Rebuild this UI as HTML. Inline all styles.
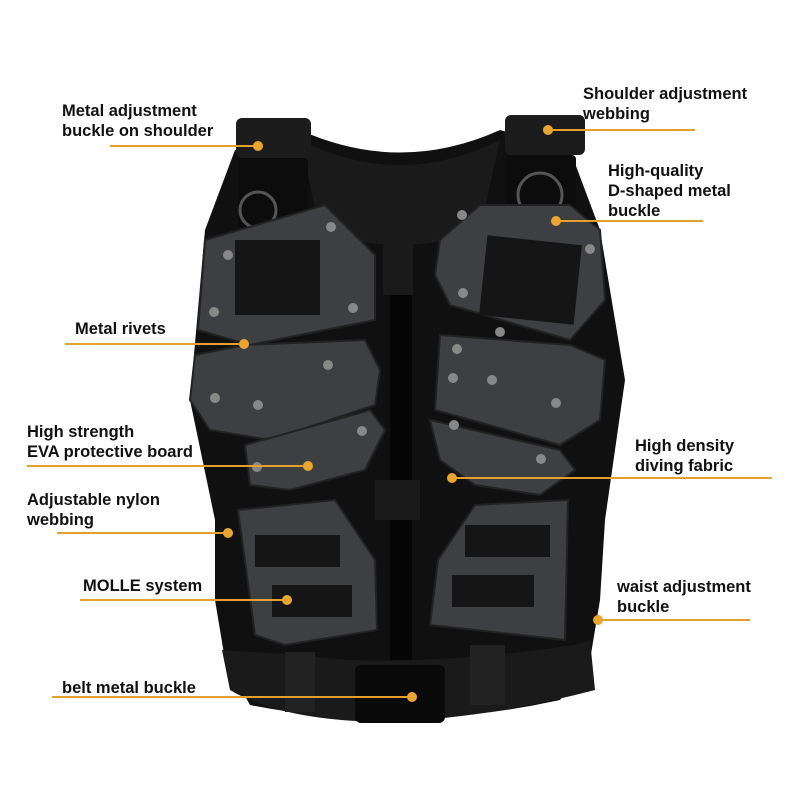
<!DOCTYPE html>
<html><head><meta charset="utf-8"><style>
html,body{margin:0;padding:0;background:#fff;}
svg{display:block}
text{font-family:"Liberation Sans",sans-serif;font-size:16.5px;font-weight:bold;fill:#111;}
</style></head><body>
<svg width="800" height="800" viewBox="0 0 800 800">
<!-- vest body -->
<path d="M235,150 L300,130 Q400,175 500,130 L570,150 L600,230 L625,380 L605,520 L600,600 L590,660 L560,700 Q400,735 250,705 L225,660 L215,600 L215,520 L190,400 L205,230 Z" fill="#101010"/>
<path d="M300,140 Q400,190 500,140 L480,230 Q400,260 320,230 Z" fill="#1a1a1a"/>
<!-- shoulder straps -->
<rect x="236" y="118" width="75" height="40" rx="6" fill="#1c1c1c"/>
<rect x="238" y="158" width="70" height="70" rx="4" fill="#0c0c0c"/>
<rect x="505" y="115" width="80" height="40" rx="6" fill="#1c1c1c"/>
<rect x="506" y="155" width="70" height="70" rx="4" fill="#0c0c0c"/>
<circle cx="258" cy="210" r="18" fill="none" stroke="#555" stroke-width="3"/>
<circle cx="540" cy="195" r="22" fill="none" stroke="#555" stroke-width="3"/>
<!-- plates left -->
<g fill="#3e3f43" stroke="#222" stroke-width="2">
<path d="M205,240 L325,205 L375,255 L375,320 L250,345 L198,330 Z"/>
<path d="M195,355 L245,345 L365,340 L380,370 L375,405 L270,440 L210,430 L190,400 Z"/>
<path d="M245,445 L370,410 L385,430 L365,470 L290,490 L250,485 Z"/>
<path d="M238,510 L335,500 L375,560 L377,630 L285,645 L255,635 Z"/>
<!-- right -->
<path d="M440,240 L480,205 L570,205 L600,230 L605,300 L570,340 L450,305 L435,275 Z"/>
<path d="M440,335 L570,345 L605,360 L600,420 L560,445 L435,410 Z"/>
<path d="M430,420 L560,450 L575,470 L540,495 L475,485 L440,460 Z"/>
<path d="M475,505 L568,500 L565,640 L430,625 L438,560 Z"/>
</g>
<!-- velcro / molle -->
<g fill="#151515">
<rect x="235" y="240" width="85" height="75"/>
<rect x="483" y="240" width="95" height="80" transform="rotate(6 530 280)"/>
<rect x="255" y="535" width="85" height="32"/><rect x="272" y="585" width="80" height="32"/>
<rect x="465" y="525" width="85" height="32"/><rect x="452" y="575" width="82" height="32"/>
</g>
<!-- zipper -->
<rect x="390" y="240" width="22" height="420" fill="#050505"/>
<rect x="383" y="240" width="30" height="55" fill="#1a1a1a"/>
<rect x="375" y="480" width="45" height="40" fill="#1a1a1a"/>
<!-- belt -->
<path d="M222,650 L300,655 Q400,670 575,645 L590,640 L595,690 Q480,720 380,722 Q280,720 230,690 Z" fill="#1a1a1a"/>
<rect x="285" y="652" width="30" height="60" fill="#222"/>
<rect x="470" y="645" width="35" height="60" fill="#222"/>
<rect x="355" y="665" width="90" height="58" rx="6" fill="#0a0a0a"/>
<!-- rivets -->
<g fill="#888">
<circle cx="228" cy="255" r="5"/><circle cx="214" cy="312" r="5"/><circle cx="331" cy="227" r="5"/><circle cx="353" cy="308" r="5"/>
<circle cx="462" cy="215" r="5"/><circle cx="590" cy="249" r="5"/><circle cx="463" cy="293" r="5"/><circle cx="500" cy="332" r="5"/>
<circle cx="457" cy="349" r="5"/><circle cx="453" cy="378" r="5"/><circle cx="492" cy="380" r="5"/><circle cx="556" cy="403" r="5"/>
<circle cx="454" cy="425" r="5"/><circle cx="541" cy="459" r="5"/><circle cx="257" cy="467" r="5"/><circle cx="328" cy="365" r="5"/>
<circle cx="258" cy="405" r="5"/><circle cx="215" cy="398" r="5"/><circle cx="362" cy="431" r="5"/>
</g>
<!-- lines -->
<g stroke="#e3a02e" stroke-width="2">
<line x1="110" y1="146" x2="258" y2="146"/><line x1="548" y1="130" x2="695" y2="130"/>
<line x1="556" y1="221" x2="703" y2="221"/><line x1="65" y1="344" x2="244" y2="344"/>
<line x1="27" y1="466" x2="310" y2="466"/><line x1="452" y1="478" x2="772" y2="478"/>
<line x1="57" y1="533" x2="228" y2="533"/><line x1="80" y1="600" x2="287" y2="600"/>
<line x1="598" y1="620" x2="750" y2="620"/><line x1="52" y1="697" x2="412" y2="697"/>
</g>
<g fill="#e8a630">
<circle cx="258" cy="146" r="5"/><circle cx="548" cy="130" r="5"/><circle cx="556" cy="221" r="5"/>
<circle cx="244" cy="344" r="5"/><circle cx="308" cy="466" r="5"/><circle cx="452" cy="478" r="5"/>
<circle cx="228" cy="533" r="5"/><circle cx="287" cy="600" r="5"/><circle cx="598" cy="620" r="5"/><circle cx="412" cy="697" r="5"/>
</g>
<text x="62" y="116">Metal adjustment</text><text x="62" y="136">buckle on shoulder</text>
<text x="583" y="99">Shoulder adjustment</text><text x="583" y="119">webbing</text>
<text x="608" y="176">High-quality</text><text x="608" y="196">D-shaped metal</text><text x="608" y="216">buckle</text>
<text x="75" y="334">Metal rivets</text>
<text x="27" y="437">High strength</text><text x="27" y="457">EVA protective board</text>
<text x="635" y="451">High density</text><text x="635" y="471">diving fabric</text>
<text x="27" y="505">Adjustable nylon</text><text x="27" y="525">webbing</text>
<text x="83" y="591">MOLLE system</text>
<text x="617" y="592">waist adjustment</text><text x="617" y="612">buckle</text>
<text x="62" y="693">belt metal buckle</text>
</svg>
</body></html>
